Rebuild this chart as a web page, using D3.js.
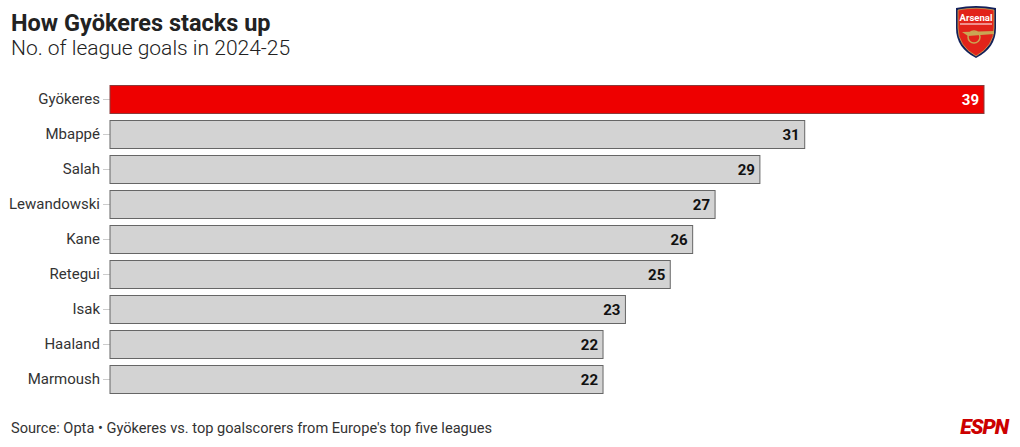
<!DOCTYPE html>
<html><head><meta charset="utf-8">
<script src="https://cdn.jsdelivr.net/npm/d3@7"></script>
<style>
body{margin:0;background:#fff;}
text{font-family:Roboto,"Liberation Sans",sans-serif;}
</style></head>
<body><svg id="c" width="1020" height="447"></svg>
<script>
const players = ["Gyökeres","Mbappé","Salah","Lewandowski","Kane","Retegui","Isak","Haaland","Marmoush"];
const goals = [39,31,29,27,26,25,23,22,22];
const highlight = "Gyökeres";

const svg = d3.select("#c");
const W = 1020, H = 447;
svg.append("rect").attr("width",W).attr("height",H).attr("fill","#fff");

svg.append("text").attr("x",11).attr("y",31).attr("font-size",23.5).attr("font-weight",700).attr("fill","#222").text("How Gyökeres stacks up");
svg.append("text").attr("x",11).attr("y",55).attr("font-size",21).attr("font-weight",300).attr("fill","#222").text("No. of league goals in 2024-25");

const x = d3.scaleLinear().domain([0,39]).range([110,984]);
const y = d3.scaleBand().domain(players).range([85.5,393.5]).paddingInner(0.2).paddingOuter(0);

const ax = svg.append("g").attr("transform","translate(110,0)")
  .call(d3.axisLeft(y).tickSize(7).tickPadding(3));
ax.select(".domain").remove();
ax.selectAll(".tick line").attr("stroke","#ccc");
ax.selectAll(".tick text").attr("font-size",15).attr("fill","#333").attr("font-family","Roboto,sans-serif");

const data = players.map((p,i)=>({p,v:goals[i]}));
svg.append("g").selectAll("rect").data(data).join("rect")
  .attr("x",x(0)).attr("y",d=>y(d.p)).attr("width",d=>x(d.v)-x(0)).attr("height",y.bandwidth())
  .attr("fill",d=>d.p===highlight?"#ee0000":"#d3d3d3")
  .attr("stroke",d=>d.p===highlight?"#8a3a3a":"#666").attr("stroke-width",1);

svg.append("g").selectAll("text").data(data).join("text")
  .attr("x",d=>x(d.v)-5).attr("y",d=>y(d.p)+y.bandwidth()/2).attr("dy","0.36em")
  .attr("text-anchor","end").attr("font-size",15).attr("font-weight",700)
  .attr("fill",d=>d.p===highlight?"#fff":"#111").text(d=>d.v);

svg.append("text").attr("x",11).attr("y",433).attr("font-size",14.6).attr("fill","#333")
  .text("Source: Opta • Gyökeres vs. top goalscorers from Europe's top five leagues");

// ESPN logo
svg.append("text").attr("x",1008).attr("y",434).attr("text-anchor","end")
  .attr("font-size",21).attr("font-weight",900).attr("font-style","italic")
  .attr("fill","#cc0000").attr("letter-spacing",-1)
  .text("ESPN");

// Arsenal crest
const g = svg.append("g").attr("transform","translate(954,6)");
g.append("path").attr("d","M2,2 Q22,-2 42,2 L42,22 Q42,42 22,52 Q2,42 2,22 Z").attr("fill","#13205a");
g.append("path").attr("d","M4,4 Q22,0.5 40,4 L40,22 Q40,40 22,50 Q4,40 4,22 Z").attr("fill","#e2231a").attr("stroke","#c9a654").attr("stroke-width",0.8);
g.append("text").attr("x",22).attr("y",15).attr("text-anchor","middle").attr("font-size",9.5).attr("font-weight",700).attr("fill","#fff").text("Arsenal");
g.append("line").attr("x1",6).attr("x2",38).attr("y1",18).attr("y2",18).attr("stroke","#fff").attr("stroke-width",1);
g.append("circle").attr("cx",20).attr("cy",31).attr("r",6).attr("fill","none").attr("stroke","#c9a654").attr("stroke-width",1.5);
g.append("path").attr("d","M8,26 L40,25 L40,28 L14,30 Z").attr("fill","#c9a654");
</script></body></html>
